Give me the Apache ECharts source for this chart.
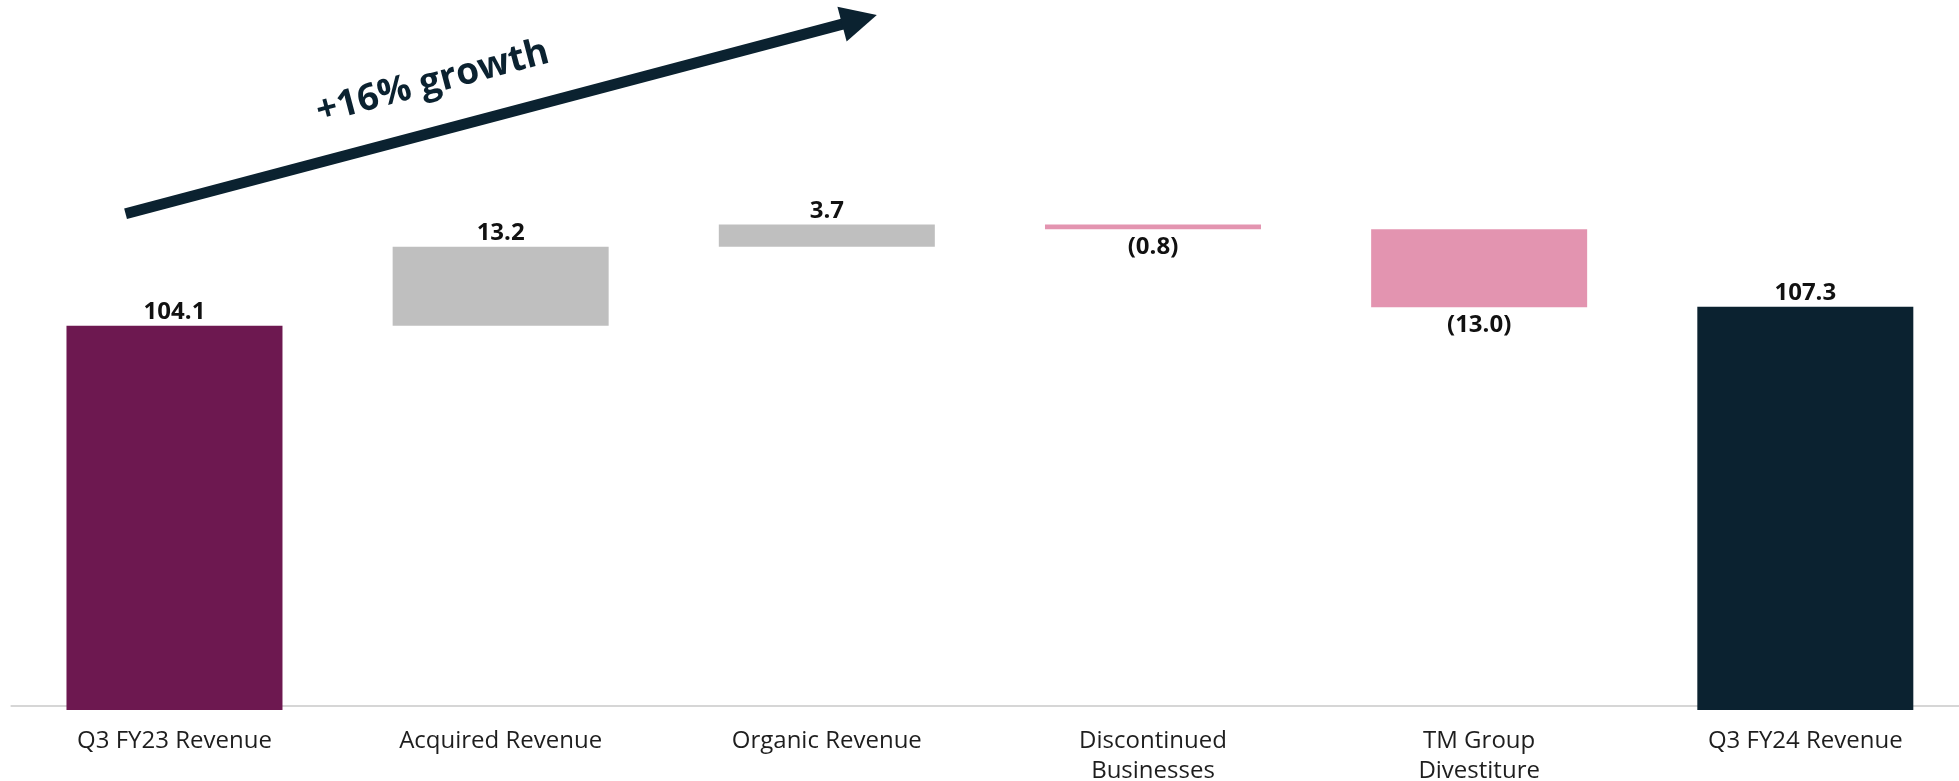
<!DOCTYPE html>
<html>
<head>
<meta charset="utf-8">
<script src="https://cdn.jsdelivr.net/npm/echarts@6/dist/echarts.min.js"></script>
<style>
html,body{margin:0;padding:0;background:#fff;}
#chart{width:1959px;height:781px;}
</style>
</head>
<body>
<div id="chart"></div>
<script>
// ---- data ----
const categories = ['Q3 FY23 Revenue', 'Acquired Revenue', 'Organic Revenue', 'Discontinued\nBusinesses', 'TM Group\nDivestiture', 'Q3 FY24 Revenue'];
const values = [104.1, 13.2, 3.7, -0.8, -13.0, 107.3];
const kinds = ['start', 'change', 'change', 'change', 'change', 'end'];
const growthText = '+16% growth';
// arrow annotation in data units (x: category index, y: value)
const arrowFrom = [-0.15, 122.8];
const arrowTo = [2.10, 155.2];

// ---- styles ----
const colorFor = { start: '#6d1850', end: '#0b2230', up: '#bfbfbf', down: '#e394b0' };

// build waterfall stacks
const base = [];
const heights = [];
let running = 0;
values.forEach((v, i) => {
  if (kinds[i] === 'start' || kinds[i] === 'end') {
    base.push(0); heights.push(v); running = v;
  } else if (v >= 0) {
    base.push(running); heights.push(v); running += v;
  } else {
    base.push(running + v); heights.push(-v); running += v;
  }
});

function fmt(v) { return v < 0 ? '(' + Math.abs(v).toFixed(1) + ')' : v.toFixed(1); }

const barData = heights.map((h, i) => {
  const k = kinds[i];
  const c = k === 'change' ? (values[i] >= 0 ? colorFor.up : colorFor.down) : colorFor[k];
  const neg = values[i] < 0;
  return {
    value: h,
    itemStyle: { color: c },
    label: { position: neg ? 'bottom' : 'top', distance: neg ? 5.5 : 1.5 }
  };
});

const chart = echarts.init(document.getElementById('chart'), null, { renderer: 'canvas' });
chart.setOption({
  animation: false,
  backgroundColor: '#ffffff',
  grid: { left: 11.4, width: 1957, top: 10, bottom: 71, containLabel: false, outerBoundsMode: 'none' },
  xAxis: [
    {
      type: 'category',
      data: categories,
      offset: -4,
      axisLine: { show: true, lineStyle: { color: '#d6d6d6', width: 2 } },
      axisTick: { show: false },
      axisLabel: {
        color: '#1e1e1e', fontFamily: 'Open Sans', fontSize: 24,
        lineHeight: 30, margin: 20, interval: 0
      },
      splitLine: { show: false }
    },
    { type: 'value', min: -0.5, max: 5.5, show: false }
  ],
  yAxis: { type: 'value', min: 40, max: 156.8, show: false, splitLine: { show: false } },
  series: [
    {
      type: 'bar', stack: 'w', data: base, barWidth: 216, silent: true,
      itemStyle: { color: 'rgba(0,0,0,0)' }, xAxisIndex: 0
    },
    {
      type: 'bar', stack: 'w', data: barData, barWidth: 216, xAxisIndex: 0,
      label: {
        show: true, color: '#111', fontFamily: 'Open Sans', fontWeight: 'bold', fontSize: 24,
        formatter: p => fmt(values[p.dataIndex])
      }
    },
    {
      type: 'lines', coordinateSystem: 'cartesian2d', xAxisIndex: 1, yAxisIndex: 0,
      polyline: false, silent: true, clip: false,
      symbol: ['none', 'triangle'], symbolSize: [36, 36],
      lineStyle: { color: '#0b2230', width: 11, opacity: 1, curveness: 0, cap: 'butt' },
      itemStyle: { color: '#0b2230' },
      label: {
        show: true, position: 'insideMiddleTop', distance: 30,
        formatter: growthText, color: '#0b2230', fontFamily: 'Open Sans',
        fontWeight: 'bold', fontSize: 37, padding: [0, 98, 0, 0]
      },
      data: [{ coords: [arrowFrom, arrowTo] }]
    }
  ]
});
</script>
</body>
</html>
